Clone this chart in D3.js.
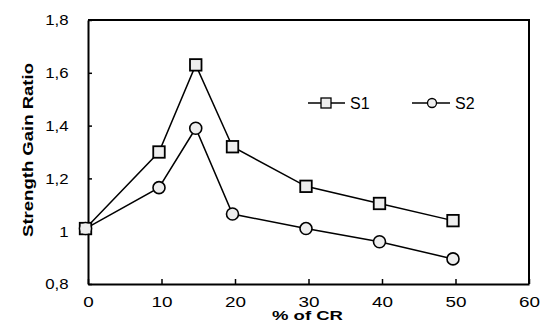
<!DOCTYPE html>
<html>
<head>
<meta charset="utf-8">
<script src="https://cdn.jsdelivr.net/npm/d3@7"></script>
<style>
  html, body { margin: 0; padding: 0; background: #fff; }
  svg { display: block; }
  text { font-family: "Liberation Sans", Arial, sans-serif; fill: #000; }
</style>
</head>
<body>
<svg id="chart" width="556" height="334"></svg>
<script>
const xValues = [0, 10, 15, 20, 30, 40, 50];
const s1Values = [1.01, 1.30, 1.63, 1.32, 1.17, 1.105, 1.04];
const s2Values = [1.01, 1.165, 1.39, 1.065, 1.01, 0.96, 0.895];
const seriesNames = ["S1", "S2"];
const xTicks = [0, 10, 20, 30, 40, 50, 60];
const yTicks = [0.8, 1.0, 1.2, 1.4, 1.6, 1.8];
const xTitle = "% of CR";
const yTitle = "Strength Gain Ratio";

const W = 556, H = 334;
const L = 88, R = 529, T = 20, B = 284;
const svg = d3.select("#chart");

const x = d3.scaleLinear().domain([0, 60]).range([L, R]);
const y = d3.scaleLinear().domain([0.8, 1.8]).range([B, T]);

const loc = d3.formatLocale({decimal: ",", thousands: ".", grouping: [3], currency: ["", ""]});
const fmt = loc.format(".1~f");

// frame (top & right)
svg.append("path")
  .attr("d", `M${L},${T}H${R}V${B}`)
  .attr("fill", "none").attr("stroke", "#000").attr("stroke-width", 2);

// x axis
const gx = svg.append("g").attr("transform", `translate(0,${B})`)
  .call(d3.axisBottom(x).tickValues(xTicks).tickSizeInner(-5).tickSizeOuter(0).tickFormat(d => d));
gx.select(".domain").attr("stroke-width", 2).attr("stroke", "#000");
gx.selectAll(".tick line").attr("stroke-width", 1.5);
gx.selectAll(".tick text")
  .attr("y", 0).attr("dy", null)
  .attr("font-size", 14)
  .attr("transform", "translate(0,23) scale(1.35,1)");

// y axis
const gy = svg.append("g").attr("transform", `translate(${L},0)`)
  .call(d3.axisLeft(y).tickValues(yTicks).tickSizeInner(-4).tickSizeOuter(0).tickFormat(fmt));
gy.select(".domain").attr("stroke-width", 2).attr("stroke", "#000");
gy.selectAll(".tick line").attr("stroke-width", 1.5);
gy.selectAll(".tick text")
  .attr("x", 0).attr("dy", "0.35em")
  .attr("font-size", 14)
  .attr("transform", "translate(-19.5,0) scale(1.2,1)");

// titles
svg.append("text")
  .attr("x", 307.5).attr("y", 320)
  .attr("text-anchor", "middle")
  .attr("font-size", 12.5).attr("font-weight", "bold")
  .attr("textLength", 71).attr("lengthAdjust", "spacingAndGlyphs")
  .text(xTitle);
svg.append("text")
  .attr("transform", "translate(33,150) rotate(-90)")
  .attr("text-anchor", "middle")
  .attr("font-size", 15).attr("font-weight", "bold")
  .attr("textLength", 174).attr("lengthAdjust", "spacingAndGlyphs")
  .text(yTitle);

// data group (slight horizontal offset as rendered in the reference)
const gData = svg.append("g").attr("transform", "translate(-2.5,0)");

const line = d3.line().x((d, i) => x(xValues[i])).y(d => y(d));
[s1Values, s2Values].forEach(vals => {
  gData.append("path").attr("d", line(vals))
    .attr("fill", "none").attr("stroke", "#000").attr("stroke-width", 1.5);
});

const fillC = "#eeeeee";
// S2 circles
gData.append("g").selectAll("circle").data(s2Values).join("circle")
  .attr("cx", (d, i) => x(xValues[i])).attr("cy", d => y(d)).attr("r", 6)
  .attr("fill", fillC).attr("stroke", "#000").attr("stroke-width", 1.6);
// S1 squares
const sq = 11.5;
gData.append("g").selectAll("rect").data(s1Values).join("rect")
  .attr("x", (d, i) => x(xValues[i]) - sq / 2).attr("y", d => y(d) - sq / 2)
  .attr("width", sq).attr("height", sq)
  .attr("fill", fillC).attr("stroke", "#000").attr("stroke-width", 1.8);
// first S2 circle fill on top (as in the reference)
gData.append("circle")
  .attr("cx", x(xValues[0])).attr("cy", y(s2Values[0])).attr("r", 5.2)
  .attr("fill", fillC).attr("stroke", "none");

// legend
const legY = 103;
const leg = [
  {name: seriesNames[0], x0: 308, x1: 345, mx: 326, tx: 350, shape: "square"},
  {name: seriesNames[1], x0: 412, x1: 450, mx: 432, tx: 455, shape: "circle"}
];
leg.forEach(l => {
  svg.append("line").attr("x1", l.x0).attr("x2", l.x1).attr("y1", legY).attr("y2", legY)
    .attr("stroke", "#000").attr("stroke-width", 1.5);
  if (l.shape === "square") {
    svg.append("rect").attr("x", l.mx - 5).attr("y", legY - 5).attr("width", 10).attr("height", 10)
      .attr("fill", fillC).attr("stroke", "#000").attr("stroke-width", 1.3);
  } else {
    svg.append("circle").attr("cx", l.mx).attr("cy", legY).attr("r", 4.5)
      .attr("fill", fillC).attr("stroke", "#000").attr("stroke-width", 1.3);
  }
  svg.append("text").attr("x", l.tx).attr("y", legY + 5.5)
    .attr("font-size", 16).text(l.name);
});
</script>
</body>
</html>
